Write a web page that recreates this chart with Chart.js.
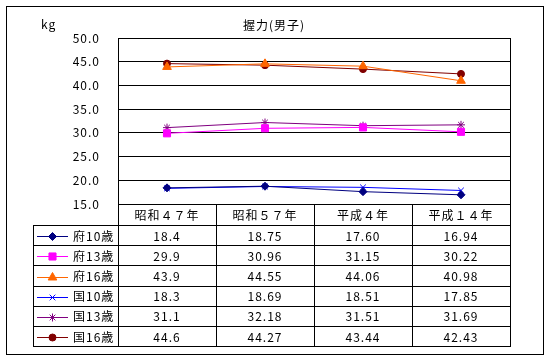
<!DOCTYPE html>
<html>
<head>
<meta charset="utf-8">
<script src="https://cdn.jsdelivr.net/npm/chart.js@4.4.0/dist/chart.umd.min.js"></script>
<style>
  html, body { margin: 0; padding: 0; background: #fff; }
</style>
</head>
<body>
<canvas id="gripChart" width="551" height="361"></canvas>
<script>
// Data
const categories = ['昭和４７年', '昭和５７年', '平成４年', '平成１４年'];
const seriesNames = ['府10歳', '府13歳', '府16歳', '国10歳', '国13歳', '国16歳'];
const fu10 = [18.4, 18.75, 17.60, 16.94];
const fu13 = [29.9, 30.96, 31.15, 30.22];
const fu16 = [43.9, 44.55, 44.06, 40.98];
const kuni10 = [18.3, 18.69, 18.51, 17.85];
const kuni13 = [31.1, 32.18, 31.51, 31.69];
const kuni16 = [44.6, 44.27, 43.44, 42.43];
const yMin = 15, yMax = 50, yStep = 5;

const seriesData = [fu10, fu13, fu16, kuni10, kuni13, kuni16];
const seriesColors = ['#000080', '#FF00FF', '#FF6600', '#0000FF', '#800080', '#800000'];
const seriesMarkers = ['rectRot', 'rect', 'triangle', 'crossRot', 'star', 'circle'];
const markerSizes = [4, 5, 5, 4, 4, 3.5];

const FONT = '"Noto Sans CJK JP", "Noto Sans", sans-serif';

// Draws the title, frame and the data table under the plot
const tablePlugin = {
    id: 'dataTable',
    beforeDraw(chart) {
        const ctx = chart.ctx;
        ctx.save();
        ctx.fillStyle = '#fff';
        ctx.fillRect(0, 0, chart.width, chart.height);
        ctx.restore();
        ctx.letterSpacing = '1px';
    },
    afterDraw(chart) {
        const ctx = chart.ctx;
        const area = chart.chartArea;
        const xScale = chart.scales.x;
        const n = categories.length;
        const colW = (area.right - area.left) / n;
        const headH = 21;
        const rowH = 20.2;
        const legendLeft = 33;
        const tableBottom = area.bottom + headH + rowH * seriesNames.length;

        ctx.save();
        ctx.strokeStyle = '#000';
        ctx.lineWidth = 1;
        ctx.letterSpacing = '1px';

        // outer frame
        ctx.strokeRect(6.5, 6.5, 537, 348);

        // plot frame sides
        ctx.beginPath();
        ctx.moveTo(Math.round(area.left) + 0.5, area.top);
        ctx.lineTo(Math.round(area.left) + 0.5, tableBottom);
        ctx.moveTo(Math.round(area.right) + 0.5, area.top);
        ctx.lineTo(Math.round(area.right) + 0.5, tableBottom);
        // column separators in table
        for (let k = 1; k < n; k++) {
            const xx = Math.round(area.left + k * colW) + 0.5;
            ctx.moveTo(xx, area.bottom);
            ctx.lineTo(xx, tableBottom);
        }
        // row lines
        for (let r = 0; r <= seriesNames.length; r++) {
            const yy = Math.round(area.bottom + headH + r * rowH) + 0.5;
            ctx.moveTo(legendLeft, yy);
            ctx.lineTo(Math.round(area.right) + 1, yy);
        }
        // legend column left edge
        ctx.moveTo(legendLeft + 0.5, Math.round(area.bottom + headH) + 0.5);
        ctx.lineTo(legendLeft + 0.5, Math.round(tableBottom) + 0.5);
        ctx.stroke();

        // title and unit
        ctx.fillStyle = '#000';
        ctx.font = '12px ' + FONT;
        ctx.textBaseline = 'middle';
        ctx.textAlign = 'center';
        ctx.fillText('握力(男子)', 274, 25);
        ctx.textAlign = 'left';
        ctx.fillText('kg', 41, 24);

        // header
        ctx.textAlign = 'center';
        categories.forEach((c, i) => {
            ctx.fillText(c, xScale.getPixelForValue(i), area.bottom + headH / 2 + 1);
        });

        // rows
        seriesNames.forEach((name, s) => {
            const cy = area.bottom + headH + rowH * s + rowH / 2 + 1;
            // legend sample
            ctx.strokeStyle = seriesColors[s];
            ctx.fillStyle = seriesColors[s];
            ctx.lineWidth = 1;
            ctx.beginPath();
            ctx.moveTo(37, Math.round(cy) + 0.5);
            ctx.lineTo(68, Math.round(cy) + 0.5);
            ctx.stroke();
            Chart.helpers.drawPoint(ctx, {
                pointStyle: seriesMarkers[s],
                radius: markerSizes[s],
                rotation: 0,
                borderWidth: 1
            }, 52.5, Math.round(cy) + 0.5);

            ctx.fillStyle = '#000';
            ctx.textAlign = 'left';
            ctx.fillText(name, 73, cy);
            ctx.textAlign = 'center';
            seriesData[s].forEach((v, i) => {
                const txt = i === 0 ? v.toFixed(1) : v.toFixed(2);
                ctx.fillText(txt, xScale.getPixelForValue(i), cy);
            });
        });
        ctx.restore();
    }
};

const ctx = document.getElementById('gripChart').getContext('2d');
const gripChart = new Chart(ctx, {
    type: 'line',
    data: {
        labels: categories,
        datasets: seriesNames.map((name, s) => ({
            label: name,
            data: seriesData[s],
            borderColor: seriesColors[s],
            backgroundColor: seriesColors[s],
            borderWidth: 1,
            pointStyle: seriesMarkers[s],
            pointRadius: markerSizes[s],
            pointHoverRadius: markerSizes[s],
            pointBorderWidth: 1,
            tension: 0,
            fill: false
        }))
    },
    options: {
        responsive: false,
        animation: false,
        layout: {
            padding: { left: 0, top: 38, right: 41, bottom: 157 }
        },
        plugins: {
            legend: { display: false },
            title: { display: false },
            tooltip: { enabled: false }
        },
        scales: {
            x: {
                type: 'category',
                offset: true,
                display: false
            },
            y: {
                min: yMin,
                max: yMax,
                afterFit(scale) { scale.width = 118; },
                ticks: {
                    stepSize: yStep,
                    padding: 18,
                    color: '#000',
                    font: { family: FONT, size: 12 },
                    callback: v => v.toFixed(1)
                },
                grid: {
                    color: '#000',
                    lineWidth: 1,
                    drawTicks: false
                },
                border: { display: true, color: '#000' }
            }
        }
    },
    plugins: [tablePlugin]
});
</script>
</body>
</html>
